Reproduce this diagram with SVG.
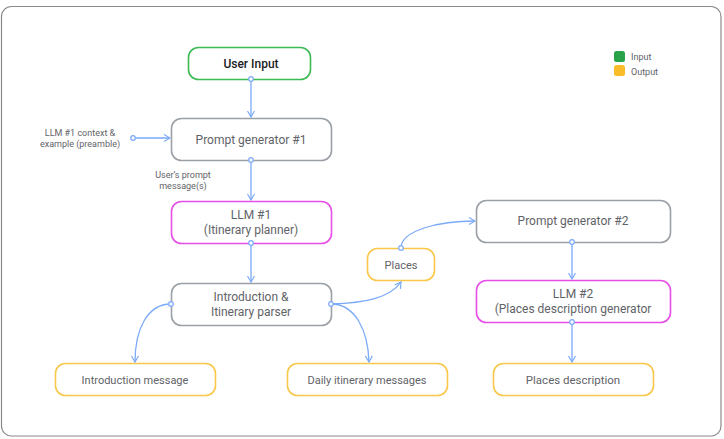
<svg xmlns="http://www.w3.org/2000/svg" width="724" height="439" viewBox="0 0 724 439">
<defs>
<style>
.n{fill:#fff;stroke-width:1.6}
.g{stroke:#9aa0a6}
.gr{stroke:#3cba54}
.m{stroke:#e64ee6}
.y{stroke:#f9c84a}
text{font-family:Roboto,"Liberation Sans",sans-serif;fill:#5f6368;text-anchor:middle}
.t{font-size:12px}
.o{font-size:11px}
.s{font-size:9px}
.c{fill:none;stroke:#7baaf7;stroke-width:1.3}
.d{fill:#fff;stroke:#7baaf7;stroke-width:1.2}
</style>
<marker id="a" viewBox="0 0 8 8" refX="7" refY="4" markerWidth="8" markerHeight="8" markerUnits="userSpaceOnUse" orient="auto">
<path d="M1,0.5 L7,4 L1,7.5" fill="none" stroke="#7baaf7" stroke-width="1.2"/>
</marker>
</defs>
<rect x="1.5" y="6.5" width="719.5" height="429.5" rx="10" fill="#fff" stroke="#8a8a8a" stroke-width="1.2"/>

<g id="legend">
<rect x="614" y="51" width="11" height="11" rx="2.5" fill="#2aa24a"/>
<rect x="614" y="65" width="11" height="11" rx="2.5" fill="#fbbc2a"/>
<text x="631" y="60" class="s" style="text-anchor:start">Input</text>
<text x="631" y="74.5" class="s" style="text-anchor:start">Output</text>
</g>

<g id="user-input"><rect class="n gr" x="188.5" y="47.5" width="122" height="32" rx="10"/><text x="251" y="68" class="t" style="font-weight:500;fill:#202124">User Input</text></g>
<g id="prompt-gen-1"><rect class="n g" x="171.5" y="118.5" width="160" height="42" rx="10"/><text x="251" y="143.5" class="t">Prompt generator #1</text></g>
<g id="llm-1"><rect class="n m" x="171.5" y="201.5" width="160" height="42" rx="10"/><text x="251" y="219" class="t">LLM #1</text><text x="251" y="234" class="t">(Itinerary planner)</text></g>
<g id="parser"><rect class="n g" x="171.5" y="283.5" width="160" height="42" rx="10"/><text x="251" y="301" class="t">Introduction &amp;</text><text x="251" y="316" class="t">Itinerary parser</text></g>
<g id="intro-msg"><rect class="n y" x="55.5" y="363.5" width="160" height="32" rx="10"/><text x="135" y="383.5" class="o">Introduction message</text></g>
<g id="daily-msg"><rect class="n y" x="287.5" y="363.5" width="160" height="32" rx="10"/><text x="367" y="383.5" class="o">Daily itinerary messages</text></g>
<g id="places"><rect class="n y" x="367.5" y="248.5" width="67" height="32" rx="10"/><text x="401" y="269" class="o">Places</text></g>
<g id="prompt-gen-2"><rect class="n g" x="476.5" y="200.5" width="194" height="42" rx="10"/><text x="573" y="225" class="t">Prompt generator #2</text></g>
<g id="llm-2"><rect class="n m" x="476.5" y="280.5" width="194" height="42" rx="10"/><text x="573" y="298" class="t">LLM #2</text><text x="573" y="313" class="t">(Places description generator</text></g>
<g id="places-desc"><rect class="n y" x="493.5" y="363.5" width="160" height="32" rx="10"/><text x="573" y="383.5" class="t" style="font-size:11.5px">Places description</text></g>

<g id="connectors">
<path class="c" d="M251,79 V117" marker-end="url(#a)"/>
<path class="c" d="M133,138 H170" marker-end="url(#a)"/>
<path class="c" d="M251,160 V200" marker-end="url(#a)"/>
<path class="c" d="M251,243 V282" marker-end="url(#a)"/>
<path class="c" d="M171,304 C147,304 135,330 135,362" marker-end="url(#a)"/>
<path class="c" d="M331,304 C355,304 368,330 369,362" marker-end="url(#a)"/>
<path class="c" d="M331,304 C365,303 390,298 401,282" marker-end="url(#a)"/>
<path class="c" d="M401,248 C401,230 440,221 475,221" marker-end="url(#a)"/>
<path class="c" d="M572,242 V279" marker-end="url(#a)"/>
<path class="c" d="M572,322 V362" marker-end="url(#a)"/>
<circle class="d" cx="251" cy="79" r="2.3"/>
<circle class="d" cx="133" cy="138" r="2.3"/>
<circle class="d" cx="251" cy="160" r="2.3"/>
<circle class="d" cx="251" cy="243" r="2.3"/>
<circle class="d" cx="171" cy="304" r="2.3"/>
<circle class="d" cx="331" cy="304" r="2.3"/>
<circle class="d" cx="401" cy="248" r="2.3"/>
<circle class="d" cx="572" cy="242" r="2.3"/>
<circle class="d" cx="572" cy="322" r="2.3"/>
<text x="80" y="136" class="s">LLM #1 context &amp;</text>
<text x="80" y="147" class="s">example (preamble)</text>
<text x="183" y="178" class="s">User’s prompt</text>
<text x="183" y="189" class="s">message(s)</text>
</g>
</svg>
